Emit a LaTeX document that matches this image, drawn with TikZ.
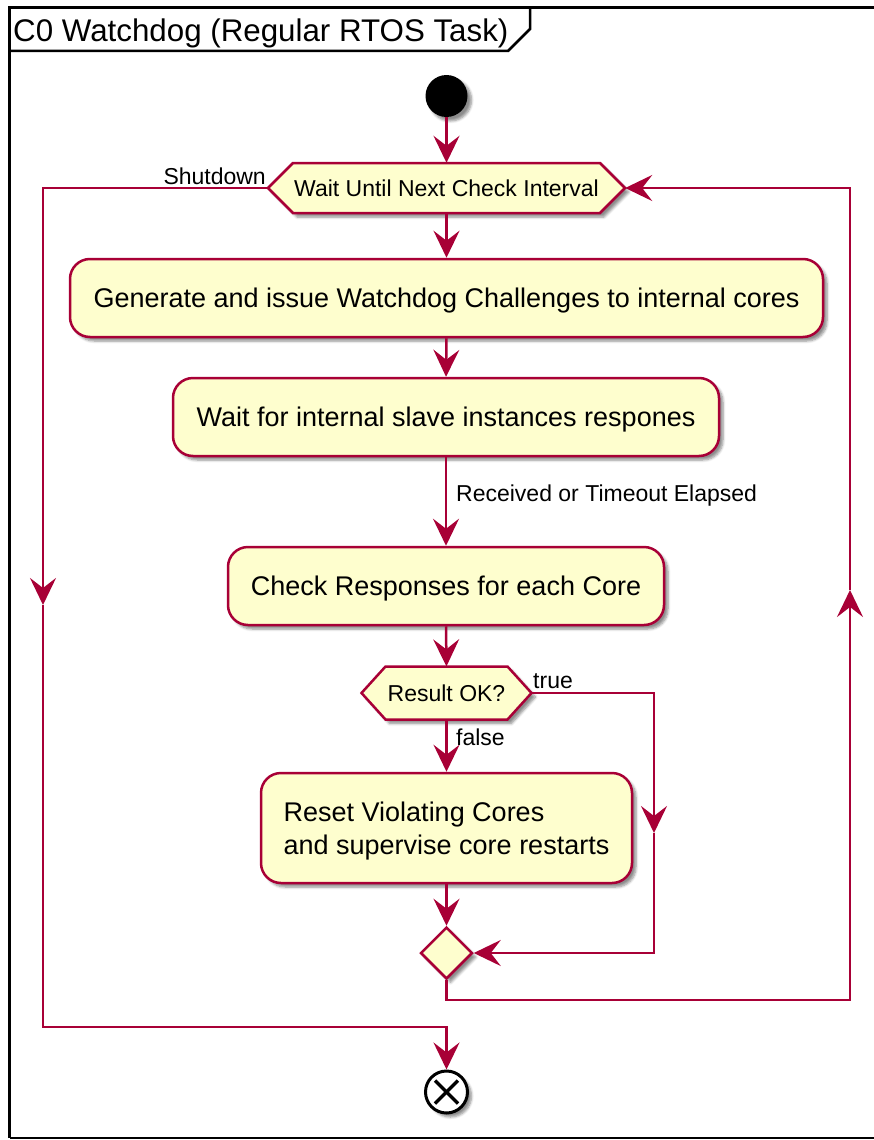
\documentclass[tikz,border=0pt]{standalone}
\usepackage{fontspec}
\setmainfont{Liberation Sans}
\usetikzlibrary{arrows.meta,shadows.blur,calc,shapes.geometric}
\definecolor{umlline}{HTML}{A80036}
\definecolor{umlfill}{HTML}{FEFECE}
\begin{document}
\begin{tikzpicture}[x=1pt,y=-1pt,
  flow/.style={draw=umlline,line width=2.5pt},
  tip/.style={-{Stealth[length=27pt,width=26pt,inset=10pt]}},
  shade/.style={blur shadow={shadow xshift=4pt,shadow yshift=-4pt,shadow blur steps=6,shadow opacity=45,shadow blur radius=2.5pt}},
  action/.style={draw=umlline,line width=2.5pt,fill=umlfill,rounded corners=20pt,shade,
    font=\fontsize{27}{33}\selectfont,inner sep=0pt,align=left,text depth=0pt},
  hexnode/.style={inner sep=0pt,font=\fontsize{23}{26}\selectfont},
  hexshape/.style={flow,fill=umlfill,shade},
  edgelabel/.style={font=\fontsize{23}{26}\selectfont,inner sep=0pt},
]
\useasboundingbox (0,0) rectangle (874,1140);

% frame with title tab
\draw[line width=3pt] (880,8) -- (9.5,8) -- (9.5,1138);
\draw[line width=1.5pt] (9.5,1138) -- (880,1138);
\draw[line width=2.5pt] (9.5,51) -- (508,51) -- (530,29) -- (530,8);
\node[anchor=west,inner sep=0pt,font=\fontsize{31.3}{34}\selectfont] (title) at (13,33) {C0 Watchdog (Regular RTOS Task)};

% start / end
\node[circle,fill=black,minimum size=42pt,inner sep=0pt,shade] (start) at (446.5,96) {};
\node[circle,draw=black,fill=white,line width=3pt,minimum size=42pt,inner sep=0pt,shade] (endc) at (446.5,1092) {};
\draw[line width=3.5pt] ($(endc)+(-11.5,-11.5)$) -- ($(endc)+(11.5,11.5)$);
\draw[line width=3.5pt] ($(endc)+(-11.5,11.5)$) -- ($(endc)+(11.5,-11.5)$);

% decision outlines, then their text nodes of the same size
\path[hexshape] (268,188) -- (293,163) -- (600,163) -- (625,188) -- (600,213) -- (293,213) -- cycle;
\path[hexshape] (361.5,693) -- (385.5,666.5) -- (507.5,666.5) -- (531.5,693) -- (507.5,719.5) -- (385.5,719.5) -- cycle;
\node[hexnode,minimum width=357pt,minimum height=50pt] (wait) at (446.5,188) {Wait Until Next Check Interval};
\node[hexnode,minimum width=170pt,minimum height=53pt] (ok) at (446.5,693) {Result OK?};

% actions
\node[action,minimum width=753pt,minimum height=78pt] (gen) at (446.5,298) {Generate and issue Watchdog Challenges to internal cores};
\node[action,minimum width=546pt,minimum height=78pt] (resp) at (446,417) {Wait for internal slave instances respones};
\node[action,minimum width=436pt,minimum height=78pt] (check) at (446,586) {Check Responses for each Core};
\node[action,minimum width=371pt,minimum height=110pt] (reset) at (446.5,828) {Reset Violating Cores\\and supervise core restarts};

% merge
\node[diamond,aspect=1,draw=umlline,line width=2.5pt,fill=umlfill,minimum size=52pt,inner sep=0pt,shade] (merge) at (446.5,953) {};

% loop corner points
\coordinate (leftmid) at (43,605);
\coordinate (leftbot) at (43,1027);
\coordinate (rightbot) at (850,1000);
\coordinate (rightmid) at (850,590);
\coordinate (truemid) at (654,833);

% main flow
\draw[flow,tip] (start) -- (wait.north);
\draw[flow,tip] (wait.south) -- (gen.north);
\draw[flow,tip] (gen.south) -- (resp.north);
\draw[flow,tip] (resp.south) -- (check.north);
\draw[flow,tip] (check.south) -- (ok.north);
\draw[flow,tip] (ok.south) -- (reset.north);
\draw[flow,tip] (reset.south) -- (merge.north);

% true branch
\draw[flow,tip] (ok.east) -| (truemid);
\draw[flow,tip] (truemid) |- (merge.east);

% repeat loop
\draw[flow,tip] (merge.south) |- (rightbot) -- (rightmid);
\draw[flow,tip] (rightmid) |- (wait.east);

% shutdown exit
\draw[flow,tip] (wait.west) -| (leftmid);
\draw[flow,tip] (leftmid) -- (leftbot) -| (endc.north);

% labels
\node[edgelabel,anchor=east] (lshut) at (266,176) {Shutdown};
\node[edgelabel,anchor=west] (lrecv) at (456,496) {Received or Timeout Elapsed};
\node[edgelabel,anchor=west] (ltrue) at (533,681) {true};
\node[edgelabel,anchor=west] (lfalse) at (456,737) {false};
\end{tikzpicture}
\end{document}
